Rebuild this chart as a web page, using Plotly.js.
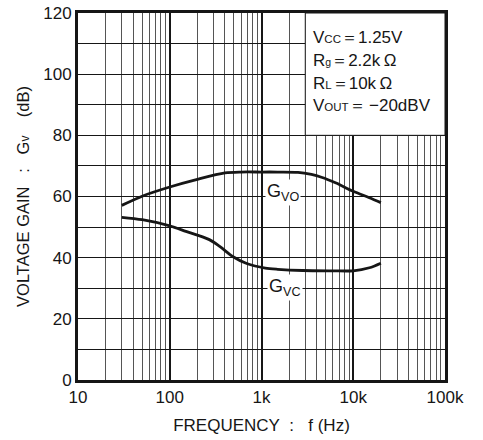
<!DOCTYPE html>
<html>
<head>
<meta charset="utf-8">
<script src="https://cdn.plot.ly/plotly-3.0.1.min.js"></script>
<style>html,body{margin:0;padding:0;background:#fff;}#chart{width:483px;height:440px;}</style>
</head>
<body>
<div id="chart"></div>
<script>
// Frequency (Hz) and gain (dB)
const freqVO = [30, 50, 100, 200, 400, 600, 1000, 1500, 2500, 3500, 4500, 6500, 10000, 15000, 20000];
const gainVO = [57.1, 60.1, 63.1, 65.6, 67.7, 68.0, 68.0, 68.0, 67.9, 67.2, 66.3, 64.4, 61.7, 59.6, 58.0];

const freqVC = [30, 50, 100, 150, 270, 350, 490, 690, 1100, 1500, 2800, 6000, 10000, 15000, 20000];
const gainVC = [53.2, 52.4, 50.4, 48.6, 45.9, 43.7, 40.3, 38.1, 36.6, 36.2, 35.8, 35.7, 35.7, 36.7, 38.2];

const seriesNames = ["G_VO", "G_VC"];

// Axis ticks
const yTickVals = [0, 20, 40, 60, 80, 100, 120];
const yTickText = ["0", "20", "40", "60", "80", "100", "120"];
const yMinorVals = [10, 30, 50, 70, 90, 110];
const decadeVals = [10, 100, 1000, 10000, 100000];
const decadeText = ["10", "100", "1k", "10k", "100k"];
const minorDigits = [2, 3, 4, 5, 6, 7, 8, 9];

// Conditions box text
const condLines = [
  "V<span style='font-size:11.5px'>CC</span>＝1.25V",
  "R<span style='font-size:10.5px'>g</span>＝2.2k\u2009Ω",
  "R<span style='font-size:11.5px'>L</span>＝10k\u2009Ω",
  "V<span style='font-size:11.5px'>OUT</span>＝\u2009−20dBV"
];

// minor x gridlines at 2..9 x each decade
const xMinorVals = [];
for (let d = 0; d < decadeVals.length - 1; d++) {
  minorDigits.forEach(m => xMinorVals.push(m * decadeVals[d]));
}

const FONT = "'Liberation Sans', Arial, Helvetica, sans-serif";
const INK = "#161616";

const traces = [
  {x: freqVO, y: gainVO, name: seriesNames[0], mode: "lines",
   line: {color: INK, width: 2.8, shape: "spline", smoothing: 0.8}, hoverinfo: "skip"},
  {x: freqVC, y: gainVC, name: seriesNames[1], mode: "lines",
   line: {color: INK, width: 2.8, shape: "spline", smoothing: 0.8}, hoverinfo: "skip"}
];

const shapes = [
  {type: "rect", xref: "x", yref: "y", x0: 3000, x1: 100000, y0: 80, y1: 120,
   fillcolor: "#ffffff", line: {color: INK, width: 1}, layer: "between"}
];

const condY = [0.933, 0.871, 0.809, 0.749];
const annotations = condLines.map((t, i) => ({
  text: t, xref: "paper", yref: "paper", x: 0.636, y: condY[i],
  xanchor: "left", yanchor: "middle", showarrow: false,
  font: {family: FONT, size: 17, color: INK}
}));
annotations.push({
  text: "G<sub>VO</sub>", xref: "x", yref: "y",
  x: Math.log10(1714), y: 61.2, showarrow: false, bgcolor: "#ffffff", borderpad: 1,
  font: {family: FONT, size: 18, color: INK}
});
annotations.push({
  text: "G<sub>VC</sub>", xref: "x", yref: "y",
  x: Math.log10(1800), y: 30.4, showarrow: false, bgcolor: "#ffffff", borderpad: 1,
  font: {family: FONT, size: 18, color: INK}
});

const layout = {
  width: 483, height: 440,
  margin: {l: 78, r: 38, t: 13, b: 60},
  paper_bgcolor: "#ffffff", plot_bgcolor: "#ffffff",
  showlegend: false,
  font: {family: FONT, color: INK},
  xaxis: {
    type: "log", range: [1, 5], tickmode: "array", tickvals: decadeVals, ticktext: decadeText,
    showgrid: true, gridcolor: INK, gridwidth: 2, zeroline: false,
    minor: {tickmode: "array", tickvals: xMinorVals, showgrid: true, gridcolor: "#555555", gridwidth: 1, ticks: ""},
    showline: true, linecolor: INK, linewidth: 3, mirror: true, ticks: "",
    tickfont: {family: FONT, size: 17, color: INK},
    title: {text: "FREQUENCY\u00a0\u00a0:\u00a0\u00a0\u00a0f (Hz)", font: {family: FONT, size: 17, color: INK}, standoff: 13}
  },
  yaxis: {
    range: [0, 120], tickmode: "array", tickvals: yTickVals, ticktext: yTickText,
    showgrid: true, gridcolor: INK, gridwidth: 1, zeroline: false,
    minor: {tickmode: "array", tickvals: yMinorVals, showgrid: true, gridcolor: INK, gridwidth: 1, ticks: ""},
    showline: true, linecolor: INK, linewidth: 3, mirror: true, ticks: "",
    tickfont: {family: FONT, size: 17, color: INK},
    title: {text: "VOLTAGE GAIN\u00a0\u00a0\u00a0:\u00a0\u00a0\u00a0G<span style='font-size:12px'>v</span>\u00a0\u00a0\u00a0\u00a0(dB)",
            font: {family: FONT, size: 16.5, color: INK}, standoff: 10}
  },
  shapes: shapes,
  annotations: annotations
};

Plotly.newPlot("chart", traces, layout, {staticPlot: true, displayModeBar: false});
</script>
</body>
</html>
